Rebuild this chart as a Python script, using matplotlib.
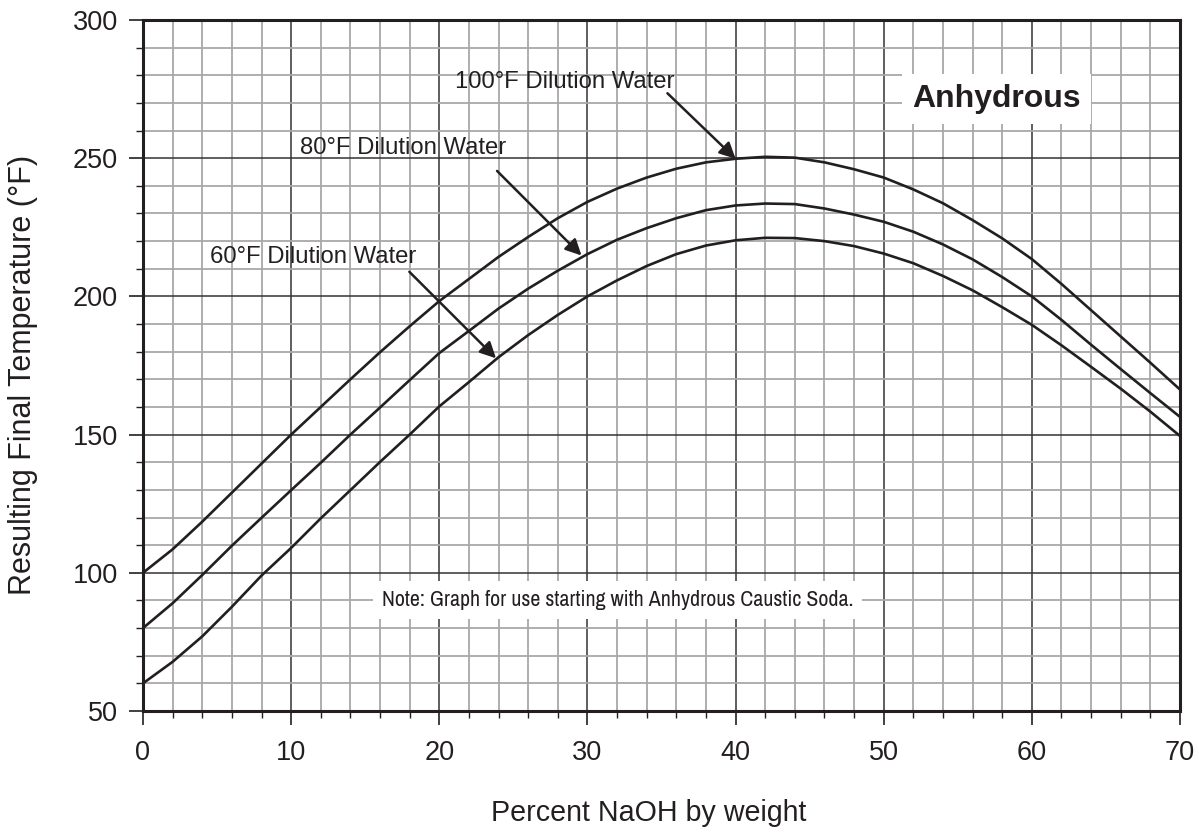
import matplotlib
matplotlib.use("Agg")
import matplotlib.pyplot as plt
from matplotlib.ticker import MultipleLocator
from matplotlib import font_manager

plt.rcParams['font.family'] = ['Liberation Sans', 'DejaVu Sans']

# ---- data ----
pct_naoh = [0, 2, 4, 6, 8, 10, 12, 14, 16, 18, 20, 22, 24, 26, 28, 30, 32, 34,
            36, 38, 40, 42, 44, 46, 48, 50, 52, 54, 56, 58, 60, 62, 64, 66, 68, 70]
temp_100f = [100, 108.5, 118.5, 129, 139.5, 150, 160, 170, 179.8, 189.2, 198.3,
             206.3, 214.3, 221.5, 228.3, 234.2, 239, 243, 246.2, 248.5, 249.8,
             250.5, 250.2, 248.5, 246, 243, 238.7, 233.7, 227.6, 221, 213.5,
             204.5, 195, 185.5, 176, 166.3]
temp_80f = [80, 89, 99.2, 109.8, 119.9, 129.9, 139.8, 150, 159.8, 169.7, 179.5,
            187.5, 195.6, 202.8, 209.3, 215.3, 220.5, 224.7, 228.3, 231.2, 232.9,
            233.6, 233.4, 231.8, 229.6, 227, 223.4, 218.8, 213.4, 207, 200,
            191.5, 182.5, 173.7, 165, 156.4]
temp_60f = [60, 67.8, 77, 87.7, 99, 109, 119.7, 129.9, 140.1, 150, 160.2,
            169, 178, 186, 193.3, 200, 205.8, 211, 215.3, 218.4, 220.3,
            221.2, 221.1, 220, 218.2, 215.5, 212, 207.4, 202.2, 196.1, 189.7,
            182.3, 174.5, 166.6, 158.3, 149.5]

series_labels = ["100°F Dilution Water", "80°F Dilution Water", "60°F Dilution Water"]
x_ticks = [0, 10, 20, 30, 40, 50, 60, 70]
y_ticks = [50, 100, 150, 200, 250, 300]

INK = '#231f20'

# look for a condensed sans face for the note; otherwise shrink the regular one
narrow_family = None
for f in font_manager.fontManager.ttflist:
    n = f.name.lower()
    if ('narrow' in n or 'condensed' in n) and 'mono' not in n and 'serif' not in n.replace('sans', ''):
        narrow_family = f.name
        break
if narrow_family:
    note_family = [narrow_family, 'Liberation Sans', 'DejaVu Sans']
    note_size = 15.8
else:
    note_family = ['Liberation Sans', 'DejaVu Sans']
    note_size = 13.2

fig = plt.figure(figsize=(11.99, 8.32), dpi=100)
ax = fig.add_axes([143 / 1199, 121 / 832, 1037 / 1199, 691 / 832])

ax.set_xlim(0, 70)
ax.set_ylim(50, 300)
ax.set_xticks(x_ticks)
ax.set_yticks(y_ticks)
ax.xaxis.set_minor_locator(MultipleLocator(2))
ax.yaxis.set_minor_locator(MultipleLocator(10))

ax.grid(which='minor', color='#a8a8a8', linewidth=1.3, zorder=0)
ax.grid(which='major', color='#333333', linewidth=1.1, zorder=0.5)
ax.set_axisbelow(True)

for s in ax.spines.values():
    s.set_linewidth(2.2)
    s.set_color(INK)
    s.set_zorder(5)

ax.tick_params(which='major', direction='out', length=10, width=1.2, color=INK,
               labelsize=19.5, labelcolor=INK)
ax.tick_params(axis='x', which='major', pad=11)
ax.tick_params(axis='y', which='major', pad=8)
ax.tick_params(which='minor', direction='out', length=5, width=1.0, color=INK)

for ys in (temp_100f, temp_80f, temp_60f):
    ax.plot(pct_naoh, ys, color=INK, linewidth=1.9, zorder=3,
            solid_joinstyle='round')

ax.set_xlabel("Percent NaOH by weight", fontsize=20.6, color=INK)
ax.xaxis.set_label_coords(0.488, -0.127)
ax.set_ylabel("Resulting Final Temperature (°F)", fontsize=22, color=INK)
ax.yaxis.set_label_coords(-0.101, 0.486)

arrow = dict(arrowstyle='-|>', color=INK, lw=1.8, mutation_scale=24,
             shrinkA=0, shrinkB=0)
ax.annotate("", xy=(40, 249.8), xytext=(35.4, 273.5), arrowprops=arrow, zorder=4)
ax.text(28.5, 277.7, series_labels[0], fontsize=17.2, color=INK,
        ha='center', va='center', zorder=4)
ax.annotate("", xy=(29.6, 214.8), xytext=(23.9, 245.4), arrowprops=arrow, zorder=4)
ax.text(17.55, 253.6, series_labels[1], fontsize=17.2, color=INK,
        ha='center', va='center', zorder=4)
ax.annotate("", xy=(23.83, 177.6), xytext=(17.98, 208.9), arrowprops=arrow, zorder=4)
ax.text(11.48, 214.4, series_labels[2], fontsize=17.2, color=INK,
        ha='center', va='center', zorder=4)

ax.text(32.05, 90.2, "Note: Graph for use starting with Anhydrous Caustic Soda.",
        fontsize=note_size, color=INK, ha='center', va='center',
        family=note_family,
        bbox=dict(boxstyle='square,pad=0.4', facecolor='white', edgecolor='none'),
        zorder=4)

ax.text(57.6, 271.5, "Anhydrous", fontsize=23, fontweight='bold', color=INK,
        ha='center', va='center',
        bbox=dict(boxstyle='square,pad=0.32', facecolor='white', edgecolor='none'),
        zorder=4)

fig.savefig("out.png", dpi=100, facecolor='white')
